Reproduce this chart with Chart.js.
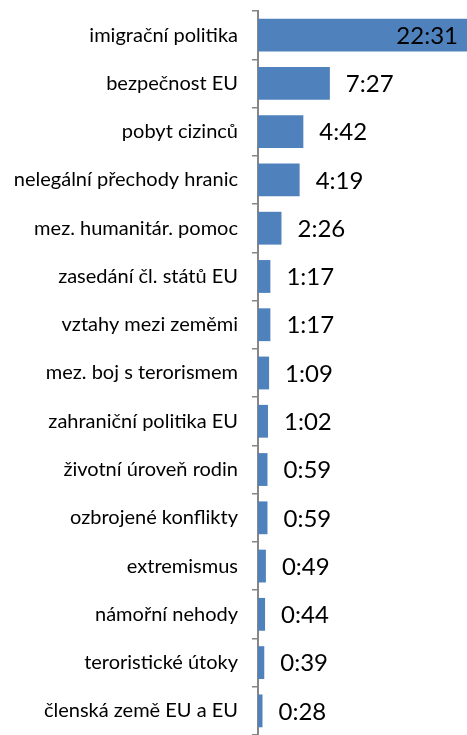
<!DOCTYPE html>
<html>
<head>
<meta charset="utf-8">
<script src="https://cdn.jsdelivr.net/npm/chart.js@4.4.1/dist/chart.umd.min.js"></script>
<style>
html,body{margin:0;padding:0;background:#fff;}
#wrap{width:467px;height:735px;position:relative;}
</style>
</head>
<body>
<div id="wrap"><canvas id="chart"></canvas></div>
<script>
// temata - delka v sekundach (mm:ss)
const categories = [
    "imigrační politika",
    "bezpečnost EU",
    "pobyt cizinců",
    "nelegální přechody hranic",
    "mez. humanitár. pomoc",
    "zasedání čl. států EU",
    "vztahy mezi zeměmi",
    "mez. boj s terorismem",
    "zahraniční politika EU",
    "životní úroveň rodin",
    "ozbrojené konflikty",
    "extremismus",
    "námořní nehody",
    "teroristické útoky",
    "členská země EU a EU"
];
const seconds = [1351, 447, 282, 259, 146, 77, 77, 69, 62, 59, 59, 49, 44, 39, 28];
const axisMax = 1300;

const fmt = function(s){
    let m = Math.floor(s/60)
    let r = s%60
    return m + ":" + (r<10?"0":"") + r
}

const valueLabels = {
    id:"valueLabels",
    afterDatasetsDraw(chart){
        const ctx = chart.ctx
        const area = chart.chartArea
        const meta = chart.getDatasetMeta(0)
        ctx.save()
        ctx.font = '24px Lato, sans-serif'
        ctx.fillStyle = "#000"
        ctx.textBaseline = "middle"
        meta.data.forEach((bar,i)=>{
            let txt = fmt(seconds[i])
            if(bar.x >= area.right){
                ctx.textAlign = "right"
                ctx.fillText(txt, area.right - 9, bar.y + 1)
            }else{
                ctx.textAlign = "left"
                ctx.fillText(txt, bar.x + 16, bar.y + 1)
            }
        })
        ctx.restore()
    }
}

new Chart(document.getElementById("chart"),{
    type:"bar",
    data:{
        labels:categories,
        datasets:[{
            data:seconds,
            backgroundColor:"#4F81BD",
            borderWidth:0,
            categoryPercentage:1,
            barPercentage:0.68
        }]
    },
    options:{
        indexAxis:"y",
        responsive:true,
        maintainAspectRatio:false,
        animation:false,
        layout:{padding:{top:11,bottom:-3,left:0,right:0}},
        plugins:{legend:{display:false},tooltip:{enabled:false}},
        scales:{
            x:{display:false,min:0,max:axisMax},
            y:{
                grid:{drawOnChartArea:false,tickLength:6,color:"#868686",lineWidth:1.5,offset:true},
                border:{color:"#868686",width:2},
                ticks:{color:"#000",padding:14,font:{family:'Lato, sans-serif',size:20}},
                afterFit(scale){
                    scale.width = 258
                    scale.paddingTop = 0
                    scale.paddingBottom = 0
                }
            }
        }
    },
    plugins:[valueLabels]
});
</script>
</body>
</html>
